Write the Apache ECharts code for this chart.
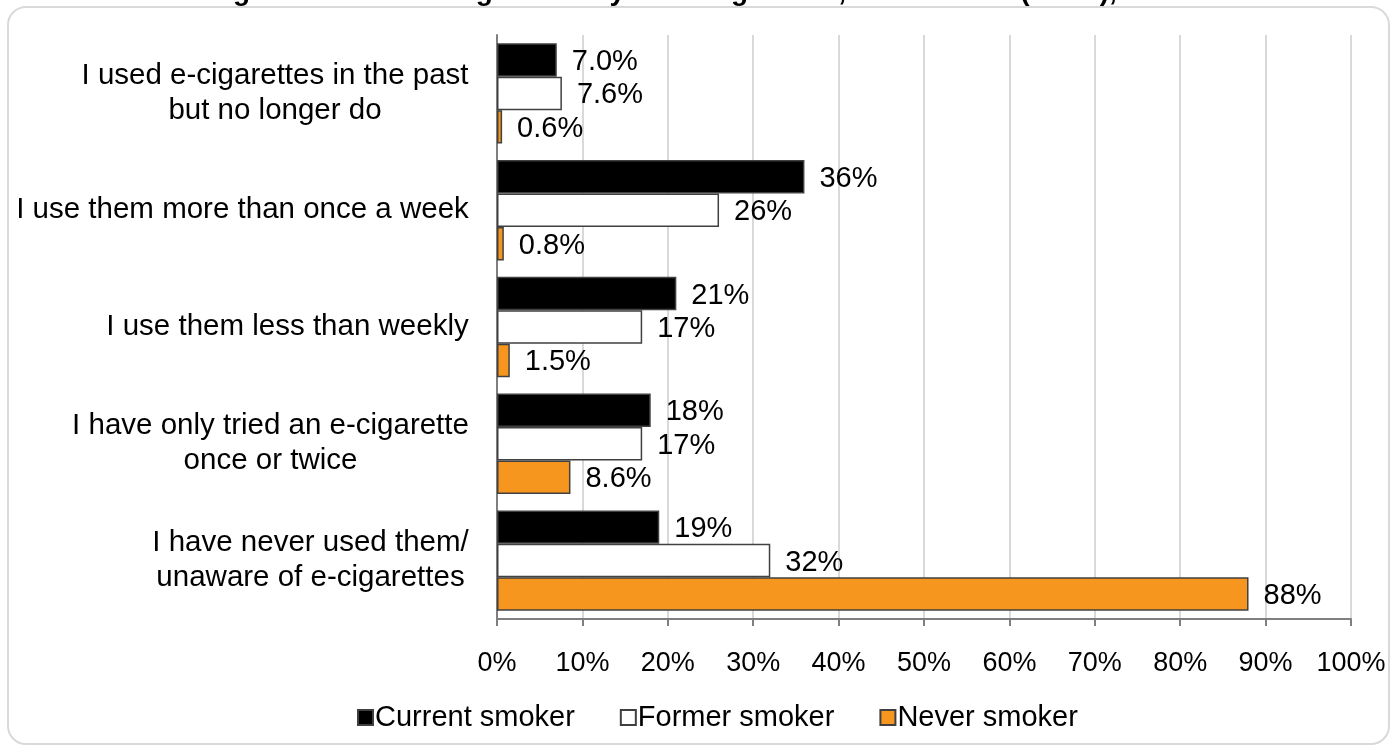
<!DOCTYPE html>
<html>
<head>
<meta charset="utf-8">
<script src="https://cdn.jsdelivr.net/npm/echarts@6/dist/echarts.min.js"></script>
<style>
html,body{margin:0;padding:0;background:#fff;}
#chart{width:1395px;height:749px;}
</style>
</head>
<body>
<div id="chart"></div>
<script>
const titleText = 'Figure 6: Use of e-cigarettes by smoking status, GB children (11-17), 2020';
const categories = [
  'I used e-cigarettes in the past\nbut no longer do',
  'I use them more than once a week',
  'I use them less than weekly',
  'I have only tried an e-cigarette\nonce or twice',
  'I have never used them/\nunaware of e-cigarettes'
];
const seriesNames = ['Current smoker', 'Former smoker', 'Never smoker'];
const currentSmoker = [7.0, 36, 21, 18, 19];
const formerSmoker = [7.6, 26, 17, 17, 32];
const neverSmoker = [0.6, 0.8, 1.5, 8.6, 88];
const xTicks = [0, 10, 20, 30, 40, 50, 60, 70, 80, 90, 100];

const FONT = 'Arial, "Liberation Sans", sans-serif';
const catFontSize = 29.5;

// measure text to centre multi-line category labels within their block
const cvs = document.createElement('canvas').getContext('2d');
cvs.font = catFontSize + 'px "Liberation Sans", Arial, sans-serif';
const rich = {};
categories.forEach((c, i) => {
  const w = Math.max(...c.split('\n').map(l => cvs.measureText(l).width));
  rich['c' + i] = {width: Math.ceil(w), align: 'center', fontSize: catFontSize, fontFamily: FONT, color: '#000', lineHeight: 35};
});

const fmt = v => (v < 10 ? v.toFixed(1) : v.toFixed(0)) + '%';

const colors = ['#000000', '#ffffff', '#F7961E'];
const dataSets = [currentSmoker, formerSmoker, neverSmoker];

const chart = echarts.init(document.getElementById('chart'), null, {renderer: 'canvas'});
chart.setOption({
  animation: false,
  backgroundColor: '#fff',
  title: {
    text: titleText,
    left: 'center',
    top: -27,
    textStyle: {fontFamily: FONT, fontSize: 28, fontWeight: 'bold', color: '#000'}
  },
  graphic: [{
    type: 'rect',
    shape: {x: 8, y: 7, width: 1381, height: 737, r: 18},
    style: {fill: 'none', stroke: '#d9d9d9', lineWidth: 2},
    z: -1
  }],
  legend: {
    data: seriesNames,
    left: 352,
    top: 698,
    icon: 'rect',
    itemWidth: 15,
    itemHeight: 15,
    itemGap: 45,
    textStyle: {fontFamily: FONT, fontSize: 29, color: '#000', padding: [0, 0, 0, -3]}
  },
  grid: {left: 497, right: 44, top: 35, bottom: 130, containLabel: false},
  xAxis: {
    type: 'value',
    min: 0,
    max: 100,
    interval: 10,
    axisLine: {show: true, lineStyle: {color: '#7f7f7f', width: 2}},
    axisTick: {show: true, length: 7, lineStyle: {color: '#7f7f7f', width: 2}},
    splitLine: {show: true, lineStyle: {color: '#d9d9d9', width: 2}},
    axisLabel: {
      formatter: v => xTicks.includes(v) ? v + '%' : '',
      fontFamily: FONT, fontSize: 27, color: '#000', margin: 31
    }
  },
  yAxis: {
    type: 'category',
    data: categories,
    inverse: true,
    axisLine: {show: true, lineStyle: {color: '#7f7f7f', width: 2}},
    axisTick: {show: false},
    splitLine: {show: false},
    axisLabel: {
      margin: 28,
      align: 'right',
      rich: rich,
      formatter: (value, idx) => value.split('\n').map(l => '{c' + idx + '|' + l + '}').join('\n')
    }
  },
  series: dataSets.map((d, i) => ({
    name: seriesNames[i],
    type: 'bar',
    data: d,
    barGap: '0%',
    barCategoryGap: '14%',
    itemStyle: {color: colors[i], borderColor: '#404040', borderWidth: 1.5},
    label: {
      show: true,
      position: 'right',
      distance: 15,
      offset: [0, 2],
      formatter: p => fmt(p.value),
      fontFamily: FONT,
      fontSize: 29,
      color: '#000'
    }
  }))
});
</script>
</body>
</html>
